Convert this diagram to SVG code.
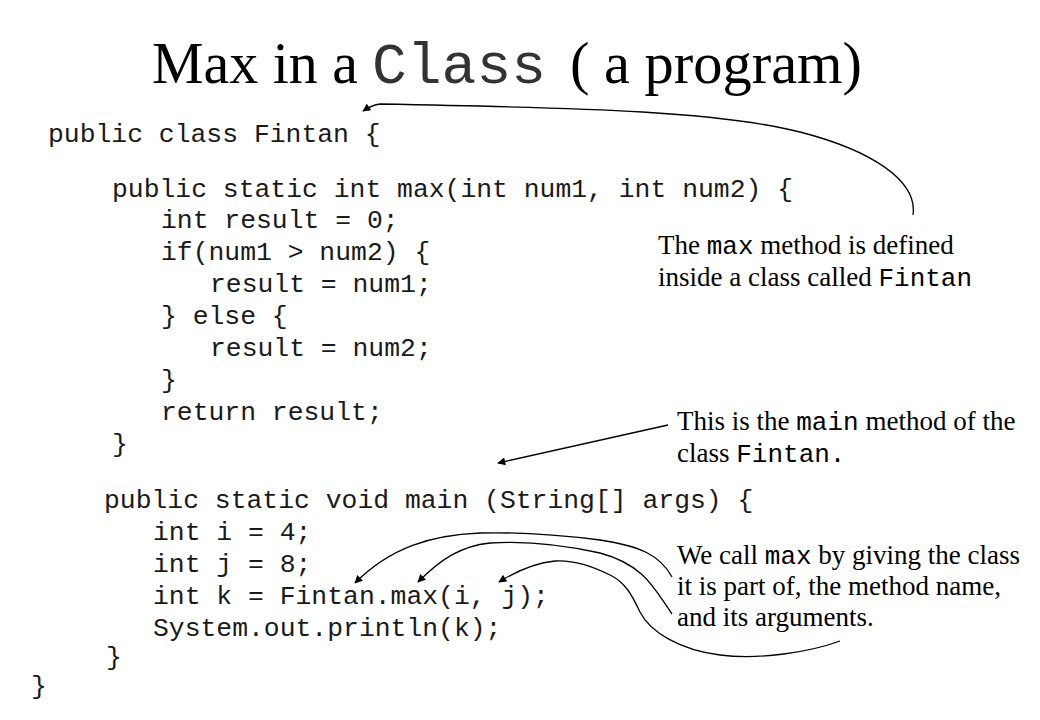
<svg xmlns="http://www.w3.org/2000/svg" width="1040" height="720" viewBox="0 0 1040 720">
<style>
.code{font-family:"Liberation Mono","Courier New",monospace;font-size:26.4px;fill:#1a1a1a}
.note{font-family:"Liberation Serif","Times New Roman",serif;font-size:27px;fill:#000}
.m{font-family:"Liberation Mono","Courier New",monospace;font-size:26px}
.title{font-family:"Liberation Serif","Times New Roman",serif;font-size:60px;fill:#000}
.conn{fill:none;stroke:#000;stroke-width:1.3}
</style>
<defs>
<marker id="ah" viewBox="0 0 10 10" refX="9" refY="5" markerWidth="10" markerHeight="8" markerUnits="userSpaceOnUse" orient="auto">
<path d="M0,0 L10,5 L0,10 z" fill="#000"/>
</marker>
</defs>
<rect width="1040" height="720" fill="#fff"/>
<g id="title">
<text class="title" x="152" y="83" textLength="206" lengthAdjust="spacingAndGlyphs">Max in a</text>
<text class="title" x="372" y="83" style="font-family:'Liberation Mono','Courier New',monospace;font-size:58px;fill:#333">Class</text>
<text class="title" x="570" y="83" textLength="292" lengthAdjust="spacingAndGlyphs">( a program)</text>
</g>
<g id="code">
<text class="code" x="48" y="142">public class Fintan {</text>
<text class="code" x="112" y="197">public static int max(int num1, int num2) {</text>
<text class="code" x="161" y="228">int result = 0;</text>
<text class="code" x="161" y="260">if(num1 &gt; num2) {</text>
<text class="code" x="210" y="292">result = num1;</text>
<text class="code" x="161" y="324">} else {</text>
<text class="code" x="210" y="356">result = num2;</text>
<text class="code" x="161" y="388">}</text>
<text class="code" x="161" y="420">return result;</text>
<text class="code" x="112" y="452">}</text>
<text class="code" x="104" y="508">public static void main (String[] args) {</text>
<text class="code" x="153" y="540">int i = 4;</text>
<text class="code" x="153" y="572">int j = 8;</text>
<text class="code" x="153" y="604">int k = Fintan.max(i, j);</text>
<text class="code" x="153" y="636">System.out.println(k);</text>
<text class="code" x="106" y="665">}</text>
<text class="code" x="31" y="694">}</text>
</g>
<g id="note-class">
<text class="note" x="658" y="254">The <tspan class="m">max</tspan> method is defined</text>
<text class="note" x="658" y="286">inside a class called <tspan class="m">Fintan</tspan></text>
</g>
<g id="note-main">
<text class="note" x="677" y="430">This is the <tspan class="m">main</tspan> method of the</text>
<text class="note" x="677" y="462">class <tspan class="m">Fintan.</tspan></text>
</g>
<g id="note-call">
<text class="note" x="677" y="564">We call <tspan class="m">max</tspan> by giving the class</text>
<text class="note" x="677" y="595">it is part of, the method name,</text>
<text class="note" x="677" y="626">and its arguments.</text>
</g>
<g id="connectors">
<path class="conn" marker-end="url(#ah)" d="M913,215 C918,180 870,150 800,132 C720,112 600,108 380,104 Q372,105 363,111"/>
<path class="conn" marker-end="url(#ah)" d="M668,425 L498,463"/>
<path class="conn" marker-end="url(#ah)" d="M672,577 C660,555 640,546 600,540 C560,535 520,532 480,533 C430,535 390,548 355,583"/>
<path class="conn" marker-end="url(#ah)" d="M672,614 C655,590 645,565 600,553 C560,544 520,541 490,543 C460,546 440,560 418,582"/>
<path class="conn" marker-end="url(#ah)" d="M840,641 C810,652 760,660 720,655 C680,650 650,632 640,612 C632,595 625,582 610,575 C590,565 570,560 555,561 C535,563 515,572 499,582"/>
</g>
</svg>
